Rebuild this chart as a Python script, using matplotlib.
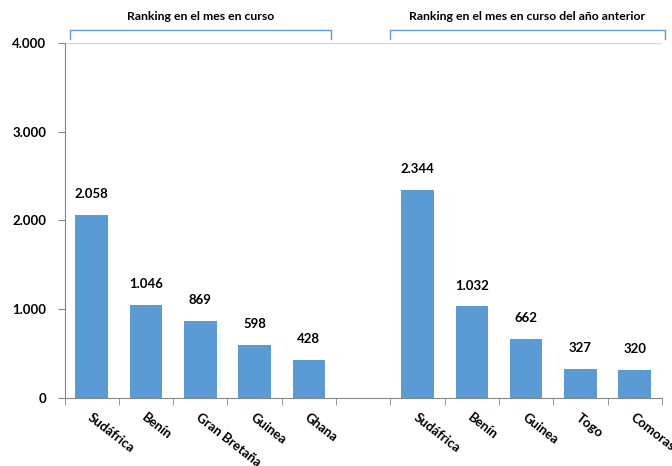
import matplotlib.pyplot as plt
from matplotlib.ticker import FuncFormatter, FixedLocator

plt.rcParams['font.family'] = ['Lato', 'DejaVu Sans']

# datos
categorias = ['Sudáfrica', 'Benín', 'Gran Bretaña', 'Guinea', 'Ghana', '',
              'Sudáfrica', 'Benín', 'Guinea', 'Togo', 'Comoras']
valores = [2058, 1046, 869, 598, 428, None, 2344, 1032, 662, 327, 320]
titulo_actual = 'Ranking en el mes en curso'
titulo_anterior = 'Ranking en el mes en curso del año anterior'

azul = '#5B9BD5'
gris = '#868686'


def miles(v, pos):
    return f'{int(v):,}'.replace(',', '.')


fig = plt.figure(figsize=(6.72, 4.66), dpi=100)
ax = fig.add_axes([0.096, 0.146, 0.889, 0.762])

xs = [i for i, v in enumerate(valores) if v is not None]
ys = [v for v in valores if v is not None]
bars = ax.bar(xs, ys, width=0.6, color=azul, zorder=2)

for x, y in zip(xs, ys):
    ax.annotate(miles(y, None), (x, y), xytext=(0, 15), textcoords='offset points',
                ha='center', va='center', fontsize=9.5, fontweight='bold')

ax.set_xlim(-0.5, len(categorias) - 0.5)
ax.set_ylim(0, 4000)
ax.set_yticks([0, 1000, 2000, 3000, 4000])
ax.yaxis.set_major_formatter(FuncFormatter(miles))
ax.axhline(4000, color='#D9D9D9', lw=1, zorder=1)

ax.set_xticks(range(len(categorias)))
ax.set_xticklabels([])
ax.xaxis.set_minor_locator(FixedLocator([i - 0.5 for i in range(len(categorias) + 1)]))
ax.tick_params(axis='x', which='major', length=0)
ax.tick_params(axis='x', which='minor', length=5, color=gris, direction='out')
ax.tick_params(axis='y', length=5, color=gris, direction='out', labelsize=9.5, pad=8)
for lab in ax.get_yticklabels():
    lab.set_fontweight('bold')

for i, c in enumerate(categorias):
    if c:
        ax.text(i + 0.02, -150, c, rotation=-38, rotation_mode='anchor',
                ha='left', va='top', fontsize=9.5, fontweight='bold')

for s in ['top', 'right']:
    ax.spines[s].set_visible(False)
ax.spines['left'].set_color(gris)
ax.spines['bottom'].set_color(gris)

# corchetes superiores
trans = ax.get_xaxis_transform()
for x0, x1, t in [(-0.4, 4.4, titulo_actual), (5.5, 10.55, titulo_anterior)]:
    ax.plot([x0, x0, x1, x1], [1.01, 1.035, 1.035, 1.01], color=azul, lw=1,
            transform=trans, clip_on=False)
    ax.text((x0 + x1) / 2, 1.06, t, transform=trans, ha='center', va='bottom',
            fontsize=8.8, fontweight='bold')

fig.savefig('out.png', dpi=100)
